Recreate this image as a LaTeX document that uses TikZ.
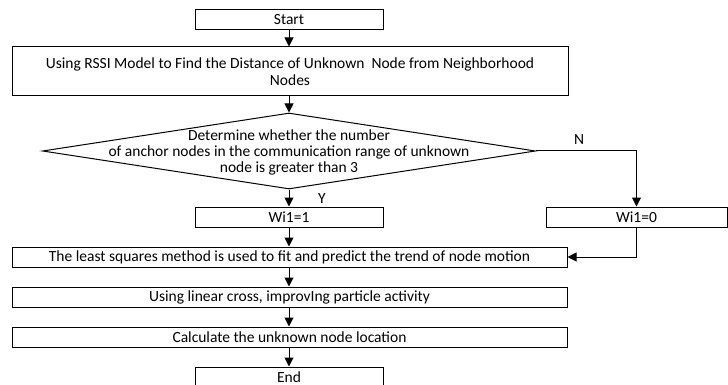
\documentclass[tikz,border=0pt]{standalone}
\usepackage{fontspec}
\setmainfont{Carlito}
\usetikzlibrary{arrows.meta,shapes.geometric}
\begin{document}
\begin{tikzpicture}[x=1pt,y=-1pt,
  txt/.style={font=\fontsize{15.5}{16}\selectfont,inner sep=0pt},
  box/.style={txt,draw,line width=1pt,rectangle,minimum height=20pt},
  decision/.style={draw,diamond,line width=1pt,minimum width=493pt,minimum height=76pt,inner sep=0pt},
  arr/.style={line width=1pt,-{Triangle[length=9pt,width=9pt]}}
]
\useasboundingbox (0,0) rectangle (728,385);
\node[box,minimum width=188pt] (start) at (289,20) {Start};
\node[box,minimum width=556pt,minimum height=49pt,align=center,font=\fontsize{15.5}{17}\selectfont] (rssi) at (290,71.5) {Using RSSI Model to Find the Distance of Unknown\ \ Node from Neighborhood\\Nodes};
\node[decision] (dec) at (289,151) {};
\node[txt,align=center] (dectext) at (289,152) {Determine whether the number\\of anchor nodes in the communication range of unknown\\node is greater than 3};
\node[box,minimum width=188pt] (wi1) at (289,217) {Wi1=1};
\node[box,minimum width=181pt] (wi0) at (636.5,217) {Wi1=0};
\node[box,minimum width=555pt] (ls) at (289.5,257) {The least squares method is used to fit and predict the trend of node motion};
\node[box,minimum width=555pt] (lin) at (289.5,297) {Using linear cross, improvIng particle activity};
\node[box,minimum width=555pt] (calc) at (289.5,337) {Calculate the unknown node location};
\node[box,minimum width=188pt] (end) at (289,377) {End};
\node[txt] (ylab) at (322,199) {Y};
\node[txt] (nlab) at (579,140) {N};
\draw[arr] (start.south) -- (start.south |- rssi.north);
\draw[arr] (start.south |- rssi.south) -- (dec.north);
\draw[arr] (dec.south) -- (wi1.north);
\draw[arr] (dec.east) -| (wi0.north);
\draw[arr] (wi1.south) -- (wi1.south |- ls.north);
\draw[arr] (wi0.south) |- (ls.east);
\draw[arr] (wi1.south |- ls.south) -- (wi1.south |- lin.north);
\draw[arr] (wi1.south |- lin.south) -- (wi1.south |- calc.north);
\draw[arr] (wi1.south |- calc.south) -- (end.north);
\end{tikzpicture}
\end{document}
